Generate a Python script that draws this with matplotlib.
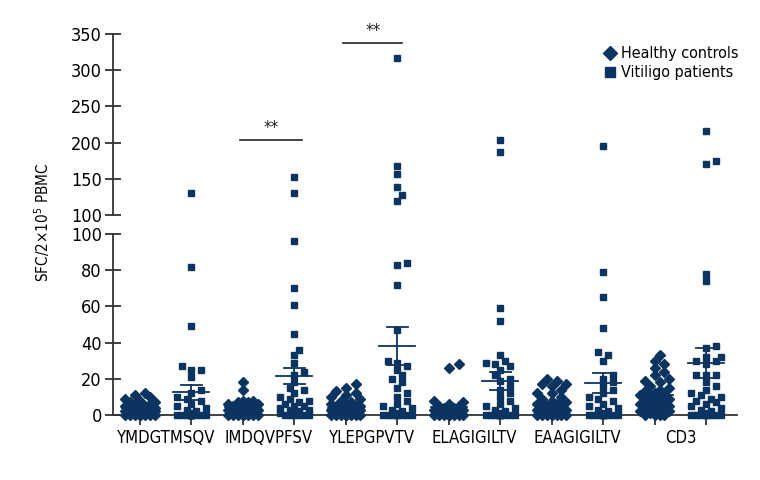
import numpy as np
import matplotlib
matplotlib.use("Agg")
import matplotlib.pyplot as plt
from matplotlib.lines import Line2D

plt.rcParams['font.family'] = ['DejaVu Sans']
plt.rcParams['font.stretch'] = 'condensed'

# ---- data ----
categories = ["YMDGTMSQV", "IMDQVPFSV", "YLEPGPVTV", "ELAGIGILTV", "EAAGIGILTV", "CD3"]

healthy = [
    [0]*10 + [1, 1, 1, 2, 2, 2, 2, 3, 3, 3, 4, 4, 4, 5, 5, 5, 6, 6, 7, 7, 8, 9, 10, 11, 12],
    [0]*10 + [1, 1, 2, 2, 2, 3, 3, 3, 4, 4, 4, 5, 5, 6, 6, 7, 7, 8, 8, 14, 18],
    [0]*10 + [1, 1, 2, 2, 3, 3, 3, 4, 4, 4, 5, 5, 5, 6, 6, 7, 8, 9, 10, 11, 12, 13, 15, 17],
    [0]*10 + [1, 1, 2, 2, 2, 3, 3, 3, 4, 4, 5, 5, 6, 7, 8, 26, 28],
    [0]*8 + [1, 1, 2, 2, 3, 3, 4, 4, 5, 5, 6, 6, 7, 8, 9, 10, 12, 12, 14, 16, 17, 17, 19, 20],
    [0]*4 + [1, 2, 2, 3, 3, 4, 5, 5, 6, 6, 7, 8, 8, 9, 10, 10, 11, 12, 12, 13, 14, 15, 16, 18,
             19, 20, 22, 24, 26, 28, 30, 33],
]

vitiligo = [
    [0]*12 + [1, 2, 3, 4, 5, 6, 8, 9, 10, 12, 14, 21, 25, 25, 27, 49, 82, 130],
    [0]*6 + [1, 1, 2, 3, 3, 4, 5, 5, 6, 7, 8, 9, 10, 12, 14, 15, 18, 22, 24, 29, 33, 36, 45,
             61, 70, 96, 131, 152],
    [0]*8 + [1, 2, 3, 4, 5, 6, 8, 10, 12, 15, 18, 20, 22, 25, 27, 29, 30, 47, 72, 83, 84,
             119, 127, 139, 157, 167, 317],
    [0]*10 + [1, 2, 3, 4, 5, 6, 8, 10, 12, 14, 16, 19, 20, 22, 25, 27, 28, 29, 30, 33, 52,
              59, 187, 203],
    [0]*10 + [1, 2, 3, 4, 5, 6, 8, 9, 10, 12, 14, 16, 18, 20, 22, 30, 33, 35, 48, 65, 79, 195],
    [0]*8 + [1, 2, 3, 4, 5, 6, 7, 8, 9, 10, 11, 12, 14, 16, 18, 22, 22, 22, 28, 30, 30, 32,
             32, 37, 38, 74, 78, 170, 175, 216],
]

healthy_mean = [3.7, 4.2, 3.9, 4.6, 6.4, 11.0]
healthy_sem = [0.6, 0.8, 0.8, 1.2, 1.0, 1.5]
vitiligo_mean = [12.5, 21.5, 38.3, 19.0, 17.7, 28.5]
vitiligo_sem = [4.1, 4.5, 10.5, 5.0, 5.7, 8.3]

sig_pairs = [(1.95, 3.15, 204), (3.95, 5.1, 338)]

navy = "#0b3461"
axcol = "#333333"

fig = plt.figure(figsize=(7.6, 4.8), dpi=100)
ax_lo = fig.add_axes([113/760, 65/480, 624/760, 181/480])
ax_hi = fig.add_axes([113/760, 265/480, 624/760, 181/480])

xlim = (-0.525, 11.6)
px_x = 624 / (xlim[1] - xlim[0])


def swarm(vals, px_y, d=6.5, maxw=17.0):
    # simple beeswarm offsets, worked out in pixel space
    placed = []
    offs = []
    step = d * 0.75
    cands = [0.0]
    k = 1
    while k * step <= maxw:
        cands += [k * step, -k * step]
        k += 1
    for v in vals:
        y = v * px_y
        best = None
        bestd = -1
        for x in cands:
            md = min([np.hypot(x - p[0], y - p[1]) for p in placed] + [1e9])
            if md >= d:
                best = x
                break
            if md > bestd:
                bestd = md
                best = x
        placed.append((best, y))
        offs.append(best / px_x)
    return np.array(offs)


for i in range(len(categories)):
    for j, (grp, mk, ms) in enumerate([(healthy[i], "D", 5.0), (vitiligo[i], "s", 4.6)]):
        xc = 2 * i + j
        vals = np.sort(np.array(grp, dtype=float))
        lo = vals[vals <= 100]
        hi = vals[vals > 100]
        off_lo = swarm(lo, 1.81)
        ax_lo.plot(xc + off_lo, lo, ls="None", marker=mk, ms=ms, color=navy,
                   mec=navy, clip_on=False, zorder=3)
        if len(hi):
            off_hi = swarm(hi, 0.724)
            ax_hi.plot(xc + off_hi, hi, ls="None", marker=mk, ms=ms, color=navy,
                       mec=navy, clip_on=False, zorder=3)
        m = [healthy_mean, vitiligo_mean][j][i]
        s = [healthy_sem, vitiligo_sem][j][i]
        ax_lo.plot([xc - 0.35, xc + 0.35], [m, m], color=navy, lw=1.3, zorder=4)
        ax_lo.plot([xc - 0.2, xc + 0.2], [m + s, m + s], color=navy, lw=1.3, zorder=4)
        ax_lo.plot([xc - 0.2, xc + 0.2], [m - s, m - s], color=navy, lw=1.3, zorder=4)
        ax_lo.plot([xc, xc], [m - s, m + s], color=navy, lw=1.3, zorder=4)

for x0, x1, y in sig_pairs:
    ax_hi.plot([x0, x1], [y, y], color="#222222", lw=1.2)
    ax_hi.text((x0 + x1) / 2, y + 4, "**", ha="center", va="bottom", fontsize=12,
               color="#222222")

for ax in (ax_lo, ax_hi):
    ax.set_xlim(*xlim)
    for sp in ("top", "right"):
        ax.spines[sp].set_visible(False)
    ax.spines["left"].set_color(axcol)
    ax.spines["left"].set_linewidth(1.3)
    ax.tick_params(axis="y", direction="inout", length=12, width=1.3, color=axcol,
                   labelsize=13, pad=2)

ax_lo.set_ylim(0, 100)
ax_lo.set_yticks([0, 20, 40, 60, 80, 100])
ax_lo.spines["bottom"].set_color(axcol)
ax_lo.spines["bottom"].set_linewidth(1.3)
ax_lo.set_xticks(range(12))
ax_lo.set_xticklabels([])
ax_lo.set_xticks([2 * i + 0.5 for i in range(6)], minor=True)
ax_lo.set_xticklabels(categories, minor=True)
ax_lo.tick_params(axis="x", which="major", direction="out", length=7, width=1.3, color=axcol)
ax_lo.tick_params(axis="x", which="minor", length=0, labelsize=12, pad=10)

ax_hi.set_ylim(100, 350)
ax_hi.set_yticks([100, 150, 200, 250, 300, 350])
ax_hi.spines["bottom"].set_visible(False)
ax_hi.set_xticks([])

fig.text(42/760, 1 - 222/480, r"SFC/2$\times$10$^5$ PBMC", rotation=90, ha="center",
         va="center", fontsize=11)

handles = [Line2D([], [], ls="None", marker="D", ms=7, color=navy, label="Healthy controls"),
           Line2D([], [], ls="None", marker="s", ms=7, color=navy, label="Vitiligo patients")]
fig.legend(handles=handles, loc="upper right", bbox_to_anchor=(745/760, 1 - 40/480),
           frameon=False, fontsize=11.5, handlelength=0.6, handletextpad=0.4,
           labelspacing=0.25, borderaxespad=0)

fig.savefig("out.png", dpi=100)
